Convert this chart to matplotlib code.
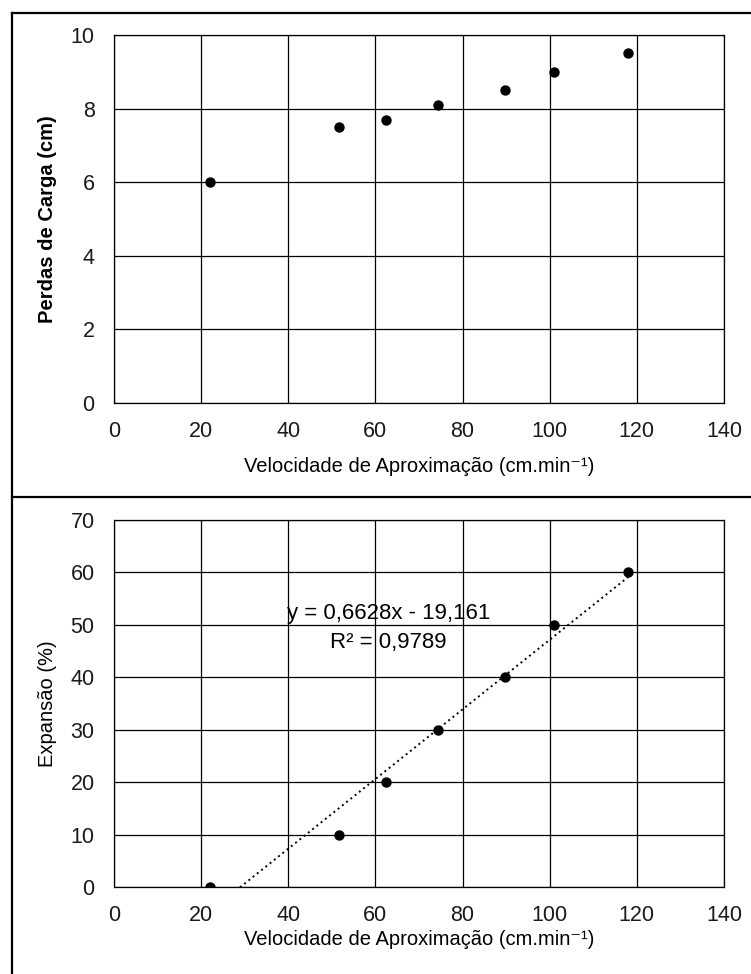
import matplotlib
matplotlib.use("Agg")
from matplotlib import pyplot as plt
from matplotlib.lines import Line2D
import numpy as np

plt.rcParams['font.family'] = ['Liberation Sans', 'DejaVu Sans']

# velocidade de aproximacao (cm/min)
velocidade = [22.0, 51.7, 62.4, 74.4, 89.7, 100.9, 118.0]
# perdas de carga (cm)
perdas = [6.0, 7.5, 7.7, 8.1, 8.5, 9.0, 9.5]
# expansao (%)
expansao = [0, 10, 20, 30, 40, 50, 60]

# linear trend reported in the chart
slope = 0.6628
intercept = -19.161
r2 = 0.9789

xlabel = 'Velocidade de Aproximação (cm.min⁻¹)'
fs = 14.5
tfs = 15.5


def style_axes(ax, ymax, ystep):
    ax.set_xlim(0, 140)
    ax.set_ylim(0, ymax)
    ax.set_xticks(np.arange(0, 141, 20))
    ax.set_yticks(np.arange(0, ymax + 1, ystep))
    ax.grid(True, color='black', linewidth=0.9)
    ax.set_axisbelow(True)
    for s in ax.spines.values():
        s.set_linewidth(0.9)
    ax.tick_params(axis='x', length=0, pad=13, labelsize=tfs, colors='#1a1a1a')
    ax.tick_params(axis='y', length=0, pad=14, labelsize=tfs, colors='#1a1a1a')


fig = plt.figure(figsize=(7.51, 9.74), dpi=100)

# top panel
ax1 = fig.add_axes([0.1518, 0.5866, 0.8122, 0.3775])
style_axes(ax1, 10, 2)
ax1.scatter(velocidade, perdas, s=42, color='black', zorder=3)
ax1.set_xlabel(xlabel, fontsize=fs)
ax1.xaxis.set_label_coords(0.5, -0.147)
ax1.set_ylabel('Perdas de Carga (cm)', fontsize=fs, fontweight='bold')
ax1.yaxis.set_label_coords(-0.093, 0.5)

# bottom panel
ax2 = fig.add_axes([0.1518, 0.0890, 0.8122, 0.3776])
style_axes(ax2, 70, 10)
ax2.scatter(velocidade, expansao, s=42, color='black', zorder=3)
x0 = -intercept / slope
xt = np.array([x0, max(velocidade)])
ax2.plot(xt, slope * xt + intercept, color='black', linestyle=(0, (1, 1.8)),
         linewidth=1.4, zorder=2)
ax2.text(63, 49.4, 'y = 0,6628x - 19,161\nR² = 0,9789', fontsize=16,
         ha='center', va='center', linespacing=1.5)
ax2.set_xlabel(xlabel, fontsize=fs)
ax2.xaxis.set_label_coords(0.5, -0.117)
ax2.set_ylabel('Expansão (%)', fontsize=fs)
ax2.yaxis.set_label_coords(-0.093, 0.5)

# panel frame lines
yb = 1 - 12.7 / 974
xl = 12 / 751
for line in [
    Line2D([xl, xl], [0, yb]),
    Line2D([xl, 1], [yb, yb]),
    Line2D([xl, 1], [1 - 497.3 / 974, 1 - 497.3 / 974]),
]:
    line.set_color('black')
    line.set_linewidth(1.6)
    fig.add_artist(line)

fig.savefig('out.png', dpi=100)
